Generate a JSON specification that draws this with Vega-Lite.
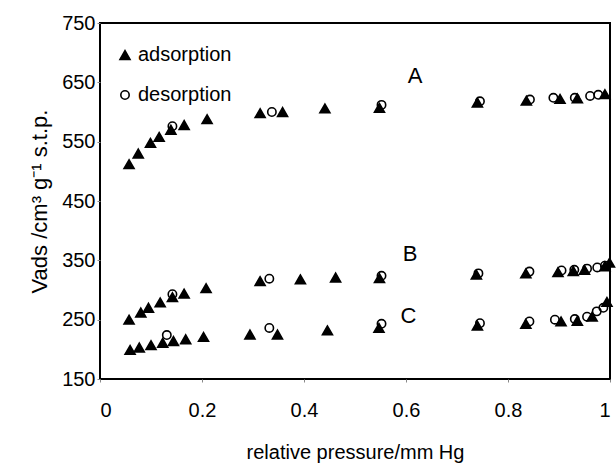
{
  "$schema": "https://vega.github.io/schema/vega-lite/v6.json",
  "width": 510,
  "height": 356,
  "autosize": {"type": "none"},
  "padding": {"left": 100, "top": 23, "right": 6, "bottom": 96},
  "background": "white",
  "config": {
    "font": "Liberation Sans",
    "view": {"stroke": "black", "strokeWidth": 2},
    "axis": {"grid": false, "domain": false, "tickColor": "#888", "tickSize": 3, "labelColor": "black", "titleColor": "black", "labelFont": "Liberation Sans", "titleFont": "Liberation Sans", "titleFontWeight": "normal"}
  },
  "datasets": {
    "pts": [
      {"sample": "A", "type": "adsorption", "p": 0.057, "v": 512},
      {"sample": "A", "type": "adsorption", "p": 0.075, "v": 530},
      {"sample": "A", "type": "adsorption", "p": 0.099, "v": 548},
      {"sample": "A", "type": "adsorption", "p": 0.116, "v": 558},
      {"sample": "A", "type": "adsorption", "p": 0.139, "v": 570},
      {"sample": "A", "type": "adsorption", "p": 0.165, "v": 578},
      {"sample": "A", "type": "adsorption", "p": 0.21, "v": 588},
      {"sample": "A", "type": "adsorption", "p": 0.314, "v": 598},
      {"sample": "A", "type": "adsorption", "p": 0.358, "v": 600},
      {"sample": "A", "type": "adsorption", "p": 0.441, "v": 606},
      {"sample": "A", "type": "adsorption", "p": 0.548, "v": 607},
      {"sample": "A", "type": "adsorption", "p": 0.740, "v": 616},
      {"sample": "A", "type": "adsorption", "p": 0.836, "v": 619},
      {"sample": "A", "type": "adsorption", "p": 0.902, "v": 622},
      {"sample": "A", "type": "adsorption", "p": 0.936, "v": 623},
      {"sample": "A", "type": "adsorption", "p": 0.99, "v": 630},
      {"sample": "A", "type": "desorption", "p": 0.142, "v": 576},
      {"sample": "A", "type": "desorption", "p": 0.337, "v": 600},
      {"sample": "A", "type": "desorption", "p": 0.552, "v": 612},
      {"sample": "A", "type": "desorption", "p": 0.745, "v": 618},
      {"sample": "A", "type": "desorption", "p": 0.843, "v": 621},
      {"sample": "A", "type": "desorption", "p": 0.889, "v": 624},
      {"sample": "A", "type": "desorption", "p": 0.931, "v": 624},
      {"sample": "A", "type": "desorption", "p": 0.961, "v": 627},
      {"sample": "A", "type": "desorption", "p": 0.977, "v": 629},
      {"sample": "B", "type": "adsorption", "p": 0.057, "v": 250},
      {"sample": "B", "type": "adsorption", "p": 0.080, "v": 262},
      {"sample": "B", "type": "adsorption", "p": 0.095, "v": 270},
      {"sample": "B", "type": "adsorption", "p": 0.118, "v": 279},
      {"sample": "B", "type": "adsorption", "p": 0.142, "v": 288},
      {"sample": "B", "type": "adsorption", "p": 0.165, "v": 294},
      {"sample": "B", "type": "adsorption", "p": 0.208, "v": 303},
      {"sample": "B", "type": "adsorption", "p": 0.314, "v": 315},
      {"sample": "B", "type": "adsorption", "p": 0.393, "v": 318},
      {"sample": "B", "type": "adsorption", "p": 0.462, "v": 321},
      {"sample": "B", "type": "adsorption", "p": 0.548, "v": 320},
      {"sample": "B", "type": "adsorption", "p": 0.738, "v": 326},
      {"sample": "B", "type": "adsorption", "p": 0.835, "v": 328},
      {"sample": "B", "type": "adsorption", "p": 0.898, "v": 330},
      {"sample": "B", "type": "adsorption", "p": 0.928, "v": 332},
      {"sample": "B", "type": "adsorption", "p": 0.950, "v": 334},
      {"sample": "B", "type": "adsorption", "p": 0.990, "v": 340},
      {"sample": "B", "type": "adsorption", "p": 0.999, "v": 346},
      {"sample": "B", "type": "desorption", "p": 0.142, "v": 293},
      {"sample": "B", "type": "desorption", "p": 0.332, "v": 319},
      {"sample": "B", "type": "desorption", "p": 0.552, "v": 324},
      {"sample": "B", "type": "desorption", "p": 0.742, "v": 328},
      {"sample": "B", "type": "desorption", "p": 0.842, "v": 331},
      {"sample": "B", "type": "desorption", "p": 0.905, "v": 333},
      {"sample": "B", "type": "desorption", "p": 0.930, "v": 334},
      {"sample": "B", "type": "desorption", "p": 0.955, "v": 336},
      {"sample": "B", "type": "desorption", "p": 0.975, "v": 338},
      {"sample": "B", "type": "desorption", "p": 0.990, "v": 341},
      {"sample": "C", "type": "adsorption", "p": 0.059, "v": 199},
      {"sample": "C", "type": "adsorption", "p": 0.077, "v": 203},
      {"sample": "C", "type": "adsorption", "p": 0.100, "v": 207},
      {"sample": "C", "type": "adsorption", "p": 0.123, "v": 211},
      {"sample": "C", "type": "adsorption", "p": 0.144, "v": 214},
      {"sample": "C", "type": "adsorption", "p": 0.168, "v": 217},
      {"sample": "C", "type": "adsorption", "p": 0.203, "v": 221},
      {"sample": "C", "type": "adsorption", "p": 0.294, "v": 225},
      {"sample": "C", "type": "adsorption", "p": 0.348, "v": 225},
      {"sample": "C", "type": "adsorption", "p": 0.446, "v": 232},
      {"sample": "C", "type": "adsorption", "p": 0.547, "v": 236},
      {"sample": "C", "type": "adsorption", "p": 0.740, "v": 240},
      {"sample": "C", "type": "adsorption", "p": 0.835, "v": 243},
      {"sample": "C", "type": "adsorption", "p": 0.904, "v": 247},
      {"sample": "C", "type": "adsorption", "p": 0.936, "v": 248},
      {"sample": "C", "type": "adsorption", "p": 0.965, "v": 255},
      {"sample": "C", "type": "adsorption", "p": 0.994, "v": 280},
      {"sample": "C", "type": "desorption", "p": 0.131, "v": 224},
      {"sample": "C", "type": "desorption", "p": 0.332, "v": 236},
      {"sample": "C", "type": "desorption", "p": 0.552, "v": 243},
      {"sample": "C", "type": "desorption", "p": 0.745, "v": 244},
      {"sample": "C", "type": "desorption", "p": 0.842, "v": 247},
      {"sample": "C", "type": "desorption", "p": 0.892, "v": 250},
      {"sample": "C", "type": "desorption", "p": 0.931, "v": 251},
      {"sample": "C", "type": "desorption", "p": 0.955, "v": 255},
      {"sample": "C", "type": "desorption", "p": 0.974, "v": 264},
      {"sample": "C", "type": "desorption", "p": 0.987, "v": 270}
    ],
    "labels": [
      {"label": "A", "p": 0.618, "v": 661},
      {"label": "B", "p": 0.608, "v": 360},
      {"label": "C", "p": 0.605, "v": 257}
    ]
  },
  "layer": [
    {
      "data": {"name": "pts"},
      "mark": {"type": "point", "stroke": "black", "strokeWidth": 1.6, "opacity": 1},
      "encoding": {
        "x": {"field": "p", "type": "quantitative", "scale": {"domain": [0, 1], "nice": false},
              "axis": {"values": [0, 0.2, 0.4, 0.6, 0.8, 1], "format": "~g", "labelFontSize": 20, "labelPadding": 18, "title": "relative pressure/mm Hg", "titleFontSize": 20, "titlePadding": 22}},
        "y": {"field": "v", "type": "quantitative", "scale": {"domain": [150, 750], "nice": false, "zero": false},
              "axis": {"values": [150, 250, 350, 450, 550, 650, 750], "labelFontSize": 20, "labelPadding": 2, "title": "Vads /cm³ g⁻¹ s.t.p.", "titleFontSize": 22, "titlePadding": 10}},
        "shape": {"field": "type", "type": "nominal", "title": null, "scale": {"domain": ["adsorption", "desorption"], "range": ["triangle-up", "circle"]},
                  "legend": {"title": null, "orient": "none", "legendX": 15, "legendY": 22, "labelFontSize": 20, "labelFont": "Liberation Sans", "labelColor": "black", "rowPadding": 20, "labelOffset": 3, "symbolStrokeColor": "black", "symbolStrokeWidth": 1.6}},
        "fill": {"field": "type", "type": "nominal", "title": null, "scale": {"domain": ["adsorption", "desorption"], "range": ["black", "transparent"]}},
        "size": {"field": "type", "type": "nominal", "title": null, "scale": {"domain": ["adsorption", "desorption"], "range": [100, 70]}}
      }
    },
    {
      "data": {"name": "labels"},
      "mark": {"type": "text", "fontSize": 22, "font": "Liberation Sans", "color": "black", "baseline": "middle", "align": "center"},
      "encoding": {
        "x": {"field": "p", "type": "quantitative"},
        "y": {"field": "v", "type": "quantitative"},
        "text": {"field": "label"}
      }
    }
  ]
}
